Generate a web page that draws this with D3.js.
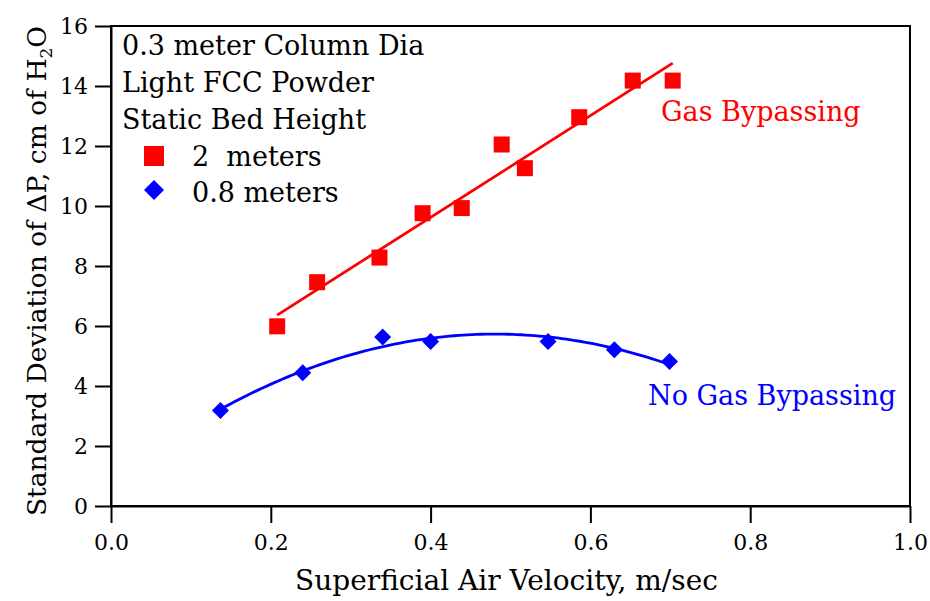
<!DOCTYPE html>
<html>
<head>
<meta charset="utf-8">
<script src="https://cdn.jsdelivr.net/npm/d3@7"></script>
<style>
  html, body { margin: 0; padding: 0; background: #fff; }
  svg text { font-family: "DejaVu Serif", "Liberation Serif", serif; }
</style>
</head>
<body>
<svg id="chart" width="930" height="601"></svg>
<script>
// Static bed height 2 m (gas bypassing)
const velocity2m = [0.208, 0.258, 0.336, 0.390, 0.439, 0.489, 0.518, 0.586, 0.653, 0.703];
const stdDev2m   = [5.99, 7.46, 8.28, 9.76, 9.93, 12.05, 11.26, 12.96, 14.18, 14.18];

// Static bed height 0.8 m (no gas bypassing)
const velocity08m = [0.137, 0.240, 0.340, 0.400, 0.547, 0.630, 0.699];
const stdDev08m   = [3.18, 4.44, 5.63, 5.48, 5.48, 5.21, 4.82];

const xTicks = [0.0, 0.2, 0.4, 0.6, 0.8, 1.0];
const yTicks = [0, 2, 4, 6, 8, 10, 12, 14, 16];

const legendNotes = ["0.3 meter Column Dia", "Light FCC Powder", "Static Bed Height"];
const legendSeries = ["2  meters", "0.8 meters"];

const svg = d3.select("#chart");
const margin = { left: 111, right: 20, top: 26, bottom: 95 };
const W = 930, H = 601;

const x = d3.scaleLinear().domain([0, 1]).range([margin.left, W - margin.right]);
const y = d3.scaleLinear().domain([0, 16]).range([H - margin.bottom, margin.top]);

// Least-squares fits
function linearFit(xs, ys) {
  const n = xs.length, mx = d3.mean(xs), my = d3.mean(ys);
  let sxy = 0, sxx = 0;
  for (let i = 0; i < n; i++) { sxy += (xs[i]-mx)*(ys[i]-my); sxx += (xs[i]-mx)**2; }
  const b = sxy / sxx;
  return v => my + b * (v - mx);
}
function quadFit(xs, ys) {
  // normal equations for y = c0 + c1 x + c2 x^2
  const S = k => d3.sum(xs, v => v ** k);
  const T = k => d3.sum(xs.map((v, i) => ys[i] * v ** k));
  const A = [[S(0), S(1), S(2)], [S(1), S(2), S(3)], [S(2), S(3), S(4)]];
  const B = [T(0), T(1), T(2)];
  for (let i = 0; i < 3; i++) {
    for (let j = i + 1; j < 3; j++) {
      const f = A[j][i] / A[i][i];
      for (let k = i; k < 3; k++) A[j][k] -= f * A[i][k];
      B[j] -= f * B[i];
    }
  }
  const c = [0, 0, 0];
  for (let i = 2; i >= 0; i--) {
    let s = B[i];
    for (let k = i + 1; k < 3; k++) s -= A[i][k] * c[k];
    c[i] = s / A[i][i];
  }
  return v => c[0] + c[1] * v + c[2] * v * v;
}

// Frame
svg.append("rect")
  .attr("x", x(0)).attr("y", y(16))
  .attr("width", x(1) - x(0)).attr("height", y(0) - y(16))
  .attr("fill", "none").attr("stroke", "#000").attr("stroke-width", 2);

// Axes
const xAxis = d3.axisBottom(x).tickValues(xTicks).tickFormat(d3.format(".1f"))
  .tickSize(17).tickSizeOuter(0).tickPadding(11);
const yAxis = d3.axisLeft(y).tickValues(yTicks).tickFormat(d3.format("d"))
  .tickSize(16).tickSizeOuter(0).tickPadding(7);

const gx = svg.append("g").attr("transform", `translate(0,${y(0)})`).call(xAxis);
const gy = svg.append("g").attr("transform", `translate(${x(0)},0)`).call(yAxis);
[gx, gy].forEach(g => {
  g.select(".domain").attr("stroke", "#000").attr("stroke-width", 2);
  g.selectAll(".tick line").attr("stroke", "#000").attr("stroke-width", 2);
  g.selectAll(".tick text").attr("fill", "#000")
    .style("font-family", "'DejaVu Serif', serif").style("font-size", "22px");
});
gy.selectAll(".tick text").attr("dy", "0.36em");

// Axis titles
svg.append("text")
  .attr("x", (x(0) + x(1)) / 2 - 4).attr("y", 590)
  .attr("text-anchor", "middle").style("font-size", "28px")
  .text("Superficial Air Velocity, m/sec");

const yTitle = svg.append("text")
  .attr("transform", `translate(46,${(y(0) + y(16)) / 2 + 5}) rotate(-90)`)
  .attr("text-anchor", "middle").style("font-size", "26.5px");
yTitle.append("tspan").text("Standard Deviation of ΔP, cm of H");
yTitle.append("tspan").attr("dy", 6).style("font-size", "17px").text("2");
yTitle.append("tspan").attr("dy", -6).text("O");

// Fit curves
const lin = linearFit(velocity2m, stdDev2m);
const quad = quadFit(velocity08m, stdDev08m);

const line = d3.line().x(d => x(d[0])).y(d => y(d[1]));

const x2 = d3.extent(velocity2m);
svg.append("path")
  .attr("d", line([[x2[0], lin(x2[0])], [x2[1], lin(x2[1])]]))
  .attr("fill", "none").attr("stroke", "#ff0000").attr("stroke-width", 2.8);

const x08 = d3.extent(velocity08m);
const curvePts = d3.range(0, 101).map(i => {
  const v = x08[0] + (x08[1] - x08[0]) * i / 100;
  return [v, quad(v)];
});
svg.append("path")
  .attr("d", line(curvePts))
  .attr("fill", "none").attr("stroke", "#0000ff").attr("stroke-width", 2.8);

// Markers
const sq = 16;
svg.append("g").selectAll("rect")
  .data(velocity2m.map((v, i) => [v, stdDev2m[i]]))
  .join("rect")
  .attr("x", d => x(d[0]) - sq / 2).attr("y", d => y(d[1]) - sq / 2)
  .attr("width", sq).attr("height", sq).attr("fill", "#ff0000");

const dm = 8.5;
const diamond = (cx, cy, r) => `M${cx},${cy - r}L${cx + r},${cy}L${cx},${cy + r}L${cx - r},${cy}Z`;
svg.append("g").selectAll("path")
  .data(velocity08m.map((v, i) => [v, stdDev08m[i]]))
  .join("path")
  .attr("d", d => diamond(x(d[0]), y(d[1]), dm))
  .attr("fill", "#0000ff");

// Legend
const lg = svg.append("g");
legendNotes.forEach((t, i) => {
  lg.append("text").attr("x", 122).attr("y", 55 + i * 37)
    .style("font-size", "27px").attr("fill", "#000").text(t);
});
lg.append("rect").attr("x", 144).attr("y", 146).attr("width", 20).attr("height", 20).attr("fill", "#ff0000");
lg.append("path").attr("d", diamond(154, 190, 10)).attr("fill", "#0000ff");
legendSeries.forEach((t, i) => {
  lg.append("text").attr("x", 192).attr("y", 166 + i * 36)
    .style("font-size", "27px").attr("xml:space", "preserve").style("white-space", "pre")
    .attr("fill", "#000").text(t);
});

// Region annotations
svg.append("text").attr("x", 661).attr("y", 121)
  .style("font-size", "27px").attr("fill", "#ff0000").text("Gas Bypassing");
svg.append("text").attr("x", 648).attr("y", 405)
  .style("font-size", "27px").attr("fill", "#0000ff").text("No Gas Bypassing");
</script>
</body>
</html>
